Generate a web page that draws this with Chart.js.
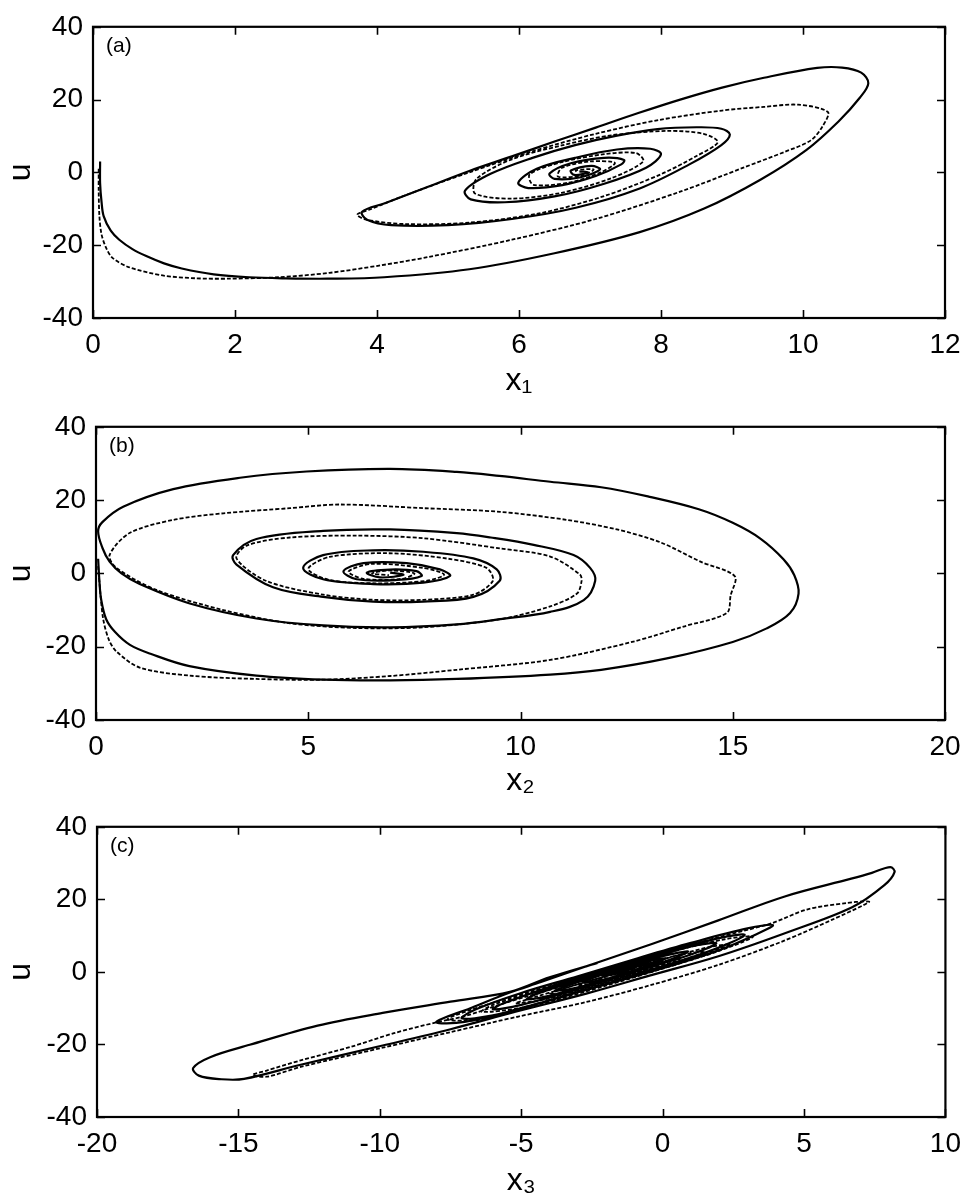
<!DOCTYPE html>
<html><head><meta charset="utf-8">
<script src="https://cdn.jsdelivr.net/npm/chart.js@4/dist/chart.umd.min.js"></script>
<style>
html,body{margin:0;padding:0;background:#fff;}
.panel{position:relative;width:971px;height:400px;}
canvas{display:block;}
</style></head><body>
<div class="panel"><canvas id="ca" width="971" height="400"></canvas></div>
<div class="panel"><canvas id="cb" width="971" height="400"></canvas></div>
<div class="panel"><canvas id="cc" width="971" height="400"></canvas></div>
<script>
// ---------- data ----------
const panelLabels = ['(a)', '(b)', '(c)'];
const xTitles = ['x\u2081', 'x\u2082', 'x\u2083'];
const yTitle = 'u';
const xMins = [0, 0, -20];
const xMaxs = [12, 20, 10];
const xSteps = [2, 5, 5];
const uMin = -40, uMax = 40, uStep = 20;

// panel (a): x1 vs u
const aSolid = [[0.10,3],[0.10,-3],[0.12,-8],[0.15,-12],[0.25,-16],[0.37,-18.5],[0.55,-21],[0.75,-23],[1.00,-25],[1.25,-26.4],[1.70,-28],[2.20,-28.8],[2.70,-29.1],[3.30,-29.2],[4.10,-28.8],[5.30,-26.6],[6.50,-22.2],[7.70,-16.4],[8.60,-10],[9.40,-2],[10.05,6.2],[10.50,14],[10.80,20.5],[10.92,24.5],[10.82,27.4],[10.55,28.8],[10.20,28.7],[9.45,26],[8.86,23.3],[8.27,20],[7.68,16.3],[7.08,12.3],[6.49,8.4],[5.90,4.4],[5.30,0.4],[4.71,-4],[4.12,-8.4],[3.79,-10.8],[3.86,-13],[4.20,-14.5],[5.00,-14.5],[5.90,-12.8],[6.80,-9.7],[7.70,-4.4],[8.40,2.2],[8.85,7.5],[8.97,10.4],[8.85,12],[8.50,12.4],[7.95,11.9],[7.38,10.1],[6.79,7.5],[6.19,4],[5.60,-0.4],[5.24,-5],[5.32,-7.4],[5.80,-8.2],[6.50,-6.6],[7.20,-3.1],[7.79,1.3],[8.00,5],[7.85,6.5],[7.38,6.3],[6.79,4],[6.25,1],[5.99,-2.8],[6.13,-4.3],[6.61,-3.5],[7.08,-1],[7.44,2.2],[7.48,3.4],[7.20,4],[6.73,2.5],[6.43,-0.3],[6.50,-1.8],[6.85,-1.4],[7.14,0.8],[7.02,1.8],[6.73,0.5],[6.78,-0.7],[6.97,0],[6.85,0.3]];
const aDash = [[0.08,1],[0.08,-5],[0.09,-12],[0.12,-17],[0.18,-20.5],[0.27,-23.4],[0.5,-26],[0.98,-28.3],[1.45,-29.1],[1.92,-29.2],[2.62,-28.8],[3.33,-27.6],[4.03,-25.6],[4.71,-23.3],[5.9,-18.5],[7.08,-12.8],[8.27,-5.3],[9.16,1.3],[9.75,5.7],[10.11,8.8],[10.28,12.8],[10.35,16.6],[9.93,18.6],[9.45,18],[8.86,17],[7.97,14.4],[7.08,10.6],[6.19,5.8],[5.3,0],[4.41,-6.2],[3.9,-10.2],[3.72,-11.6],[3.85,-13],[4.4,-14.2],[5.3,-13.8],[6.3,-11.2],[7.2,-6.5],[8.0,-0.5],[8.5,4.5],[8.8,8.3],[8.6,10.6],[8.1,11.4],[7.3,10.2],[6.6,7.4],[5.9,3.6],[5.4,-1.8],[5.38,-5.8],[5.9,-7.2],[6.6,-5.6],[7.3,-1.6],[7.75,3.0],[7.65,5.3],[7.2,5.0],[6.6,2.8],[6.15,-0.5],[6.2,-3.4],[6.7,-2.8],[7.15,0],[7.35,2.6],[7.0,3.0],[6.6,1.2],[6.55,-1.2],[6.9,-0.8],[7.05,0.8],[6.8,0.6],[6.82,0]];

// panel (b): x2 vs u
const bSolid = [[0.05,4],[0.08,-2],[0.12,-7],[0.24,-12.5],[0.45,-16],[0.8,-19.5],[1.3,-22],[2.2,-25.3],[3.78,-27.9],[5.35,-29],[6.93,-29.2],[8.5,-28.8],[10.7,-27.6],[11.9,-26.3],[13.45,-23.2],[15.0,-18.7],[15.8,-15],[16.35,-10.8],[16.55,-5.5],[16.45,-0.5],[16.2,3.8],[15.65,9.5],[15.0,13.8],[14.2,17.5],[13.0,21],[11.9,23.5],[10.7,25],[9.5,26.6],[8.5,27.7],[6.93,28.5],[4.96,27.8],[3.39,26.1],[1.82,23],[0.64,18.2],[0.15,14],[0.05,11.5],[0.15,7],[0.32,3.2],[0.6,0],[1.03,-2.9],[2.21,-8.2],[3.78,-12.3],[5.35,-14.2],[6.93,-14.7],[8.5,-13.9],[9.52,-12.5],[10.7,-10.5],[11.49,-7.3],[11.76,-2],[11.64,1.5],[11.25,5],[10.31,7.8],[9.3,9.8],[8.5,11],[6.93,12],[5.35,11.6],[3.78,9.4],[3.23,5],[3.31,2.4],[4.17,-3.8],[5.35,-6.4],[6.53,-7.7],[7.71,-7.7],[8.89,-6.4],[9.51,-2],[9.44,1.1],[8.89,4.1],[7.71,5.9],[6.53,6.3],[5.35,5],[4.88,1.5],[5.35,-1.6],[6.53,-2.9],[7.71,-2.5],[8.34,-0.7],[8.1,1.1],[7.32,2.8],[6.3,2.8],[5.83,0.6],[6.14,-1.6],[7.09,-1.8],[7.67,-0.7],[7.55,0.6],[6.93,1.05],[6.38,0.2],[6.69,-1.1],[7.24,-0.4],[6.93,0.2]];
const bDash = [[0.05,2],[0.1,-5],[0.17,-12.5],[0.3,-18],[0.48,-21.3],[1.03,-25.7],[2.21,-27.9],[3.78,-28.8],[5.35,-29.0],[6.93,-28.0],[8.5,-26.3],[10.7,-23.6],[12.66,-18.6],[13.84,-14.5],[14.86,-10.8],[14.95,-6.0],[15.05,-0.8],[14.24,3.2],[13.29,8.5],[12.27,12.0],[11.09,14.6],[9.52,16.8],[7.71,17.8],[5.75,18.8],[4.57,17.8],[3.0,16.4],[1.82,14.6],[0.79,11.0],[0.32,5.0],[0.48,1.5],[1.42,-4.5],[3.0,-10.0],[4.57,-13.6],[6.14,-14.9],[7.71,-14.7],[9.52,-12.5],[10.7,-9.0],[11.33,-5.5],[11.44,-2.0],[11.4,-0.3],[10.7,4.6],[9.52,6.8],[7.71,9.6],[6.14,10.3],[4.57,9.8],[3.55,7.6],[3.31,4.1],[4.0,-2.0],[5.35,-5.8],[6.53,-7.2],[7.71,-7.2],[8.89,-5.8],[9.35,-2.0],[9.2,1.5],[8.3,4.0],[6.9,5.5],[5.5,4.5],[5.0,1.2],[5.5,-1.8],[6.6,-2.7],[7.8,-2.0],[8.2,-0.3],[7.7,1.5],[6.5,2.6],[5.95,0.5],[6.3,-1.5],[7.2,-1.5],[7.5,0],[6.9,0.8],[6.5,0],[6.9,-0.5]];

// panel (c): x3 vs u
const cSolid = [[-2.3,2.5],[-4.0,-1.5],[-5.4,-5.5],[-7.5,-8.2],[-9.9,-11.3],[-12.2,-14.8],[-14.6,-20.1],[-16.0,-23.5],[-16.6,-26.5],[-16.4,-28.6],[-15.6,-29.6],[-14.8,-29.5],[-12.8,-25.6],[-9.9,-20.3],[-7.5,-15.8],[-5.2,-11.0],[-2.7,-6.0],[-0.4,-0.9],[2.0,4.4],[4.3,10.6],[6.7,17.8],[7.84,23.9],[8.2,27.5],[8.05,28.9],[7.4,27.3],[6.67,25.7],[4.32,20.8],[1.97,14.2],[-0.38,7.7],[-2.72,1.5],[-4.3,-2.8],[-5.4,-5.7],[-6.8,-10.0],[-8.0,-13.8],[-7.0,-13.8],[-5.0,-10.0],[-2.7,-5.0],[0,1.0],[2.0,6.0],[3.3,10.3],[3.9,12.9],[3.0,12.0],[1.0,8.0],[-1.0,3.5],[-3.0,-1.2],[-5.0,-5.8],[-6.6,-10.3],[-7.1,-12.8],[-6.0,-12.0],[-4.0,-7.8],[-2.0,-3.3],[0,1.5],[1.8,6.2],[2.9,10.2],[2.0,9.3],[0,5.2],[-2.0,0.6],[-4.0,-4.2],[-5.6,-8.6],[-6.0,-10.3],[-5.0,-9.1],[-3.0,-4.8],[-1.0,0],[1.0,4.8],[1.9,7.9],[1.0,7.0],[-1.0,2.4],[-3.0,-2.3],[-4.5,-6.2],[-4.8,-7.6],[-3.8,-6.2],[-2.0,-2.1],[0,2.6],[0.9,5.6],[0,4.3],[-2.0,-0.3],[-3.5,-4.2],[-3.8,-5.2],[-2.8,-3.9],[-1.0,0.5],[0.1,3.7],[-0.8,2.3],[-2.3,-1.2],[-2.8,-2.9],[-1.8,-1.6],[-0.6,1.6],[-0.5,2.4],[-1.3,0.8],[-2.1,-1.0],[-1.7,-0.6],[-1.2,0.6],[-1.5,0]];
const cDash = [[-1.5,1.0],[-3.5,-3.8],[-5.5,-8.4],[-7.0,-12.2],[-8.0,-13.9],[-9.5,-16.9],[-11.0,-20.6],[-12.8,-24.4],[-14.0,-27.2],[-14.5,-28.4],[-14.0,-28.9],[-12.8,-26.2],[-9.9,-20.9],[-7.5,-16.6],[-5.1,-12.3],[-2.7,-8.3],[-0.4,-3.6],[2.0,2.0],[4.3,8.6],[6.0,14.4],[7.1,18.4],[7.3,19.4],[6.5,19.0],[5.1,17.2],[3.85,13.4],[2.0,9.6],[0,5.3],[-2.0,0.7],[-4.0,-3.9],[-6.0,-8.5],[-7.6,-13.0],[-6.5,-13.2],[-4.5,-9.3],[-2.0,-3.8],[0,0.9],[2.0,5.8],[3.2,9.7],[2.2,9.0],[0,4.9],[-2.0,0.3],[-4.0,-4.3],[-6.0,-9.1],[-6.4,-11.0],[-5.0,-9.9],[-3.0,-5.3],[-1.0,-0.6],[1.0,3.9],[2.4,7.6],[1.5,6.6],[-0.5,2.3],[-2.5,-2.3],[-4.5,-6.9],[-5.2,-8.7],[-4.0,-7.3],[-2.0,-2.8],[0,1.6],[1.5,5.5],[0.5,4.5],[-1.5,0.0],[-3.5,-4.6],[-4.0,-6.2],[-3.0,-5.0],[-1.0,-0.3],[0.6,3.4],[-0.5,2.2],[-2.5,-2.4],[-3.0,-3.9],[-2.0,-2.4],[-0.2,1.9],[-1.2,0.7],[-2.3,-2.2],[-1.4,-0.8],[-0.8,0.6],[-1.3,0.4],[-1.6,-0.5]];

const solidSeries = [aSolid, bSolid, cSolid];
const dashSeries = [aDash, bDash, cDash];

// ---------- layout (pixels) ----------
const plotLeft = [93, 96, 97];
const plotRight = [945, 945, 949];
const plotTop = [18, 16, 15];
const plotH = [300, 304, 302];
const FONT = '"Liberation Sans", Arial, Helvetica, sans-serif';

const framePlugin = {
  id: 'frame',
  afterDatasetsDraw(chart, args, opts) {
    const {ctx, chartArea: a, scales} = chart;
    const x = scales.x, y = scales.y;
    ctx.save();
    ctx.strokeStyle = '#000';
    ctx.lineWidth = 2.2;
    ctx.strokeRect(a.left, a.top, a.right - a.left, a.bottom - a.top);
    ctx.lineWidth = 1.6;
    const L = 8;
    ctx.beginPath();
    x.ticks.forEach(t => {
      const p = Math.round(x.getPixelForValue(t.value)) + 0.5;
      ctx.moveTo(p, a.bottom); ctx.lineTo(p, a.bottom - L);
      ctx.moveTo(p, a.top); ctx.lineTo(p, a.top + L);
    });
    y.ticks.forEach(t => {
      const p = Math.round(y.getPixelForValue(t.value)) + 0.5;
      ctx.moveTo(a.left, p); ctx.lineTo(a.left + L, p);
      ctx.moveTo(a.right, p); ctx.lineTo(a.right - L, p);
    });
    ctx.stroke();
    ctx.fillStyle = '#000';
    ctx.font = '21px ' + FONT;
    ctx.textBaseline = 'top';
    ctx.textAlign = 'left';
    ctx.fillText(opts.label, a.left + 13, a.top + 9);
    ctx.restore();
  }
};

function toPts(arr) { return arr.map(p => ({x: p[0], y: p[1]})); }

['ca', 'cb', 'cc'].forEach((id, i) => {
  new Chart(document.getElementById(id), {
    type: 'scatter',
    data: {
      datasets: [
        {data: toPts(solidSeries[i]), showLine: true, borderColor: '#000', borderWidth: 2.2,
         pointRadius: 0, tension: 0.35, fill: false},
        {data: toPts(dashSeries[i]), showLine: true, borderColor: '#000', borderWidth: 1.8,
         borderDash: [4, 2], pointRadius: 0, tension: 0.3, fill: false}
      ]
    },
    options: {
      responsive: false,
      animation: false,
      layout: {padding: {left: 0, right: 971 - plotRight[i], top: plotTop[i], bottom: 0}},
      plugins: {legend: {display: false}, tooltip: {enabled: false}, frame: {label: panelLabels[i]}},
      scales: {
        x: {
          type: 'linear', min: xMins[i], max: xMaxs[i],
          grid: {display: false, drawTicks: false},
          border: {display: false},
          ticks: {stepSize: xSteps[i], color: '#000', padding: 10, maxRotation: 0, autoSkip: false,
                  font: {family: FONT, size: 28}},
          title: {display: true, text: xTitles[i], color: '#000', padding: {top: 0, bottom: 0},
                  font: {family: FONT, size: 32}},
          afterFit(s) { s.height = 400 - plotTop[i] - plotH[i]; }
        },
        y: {
          type: 'linear', min: uMin, max: uMax,
          grid: {display: false, drawTicks: false},
          border: {display: false},
          ticks: {stepSize: uStep, color: '#000', padding: 10, autoSkip: false,
                  font: {family: FONT, size: 28}},
          title: {display: true, text: yTitle, color: '#000', padding: {top: 2, bottom: 0},
                  font: {family: FONT, size: 32}},
          afterFit(s) { s.width = plotLeft[i]; }
        }
      }
    },
    plugins: [framePlugin]
  });
});
</script>
</body></html>
